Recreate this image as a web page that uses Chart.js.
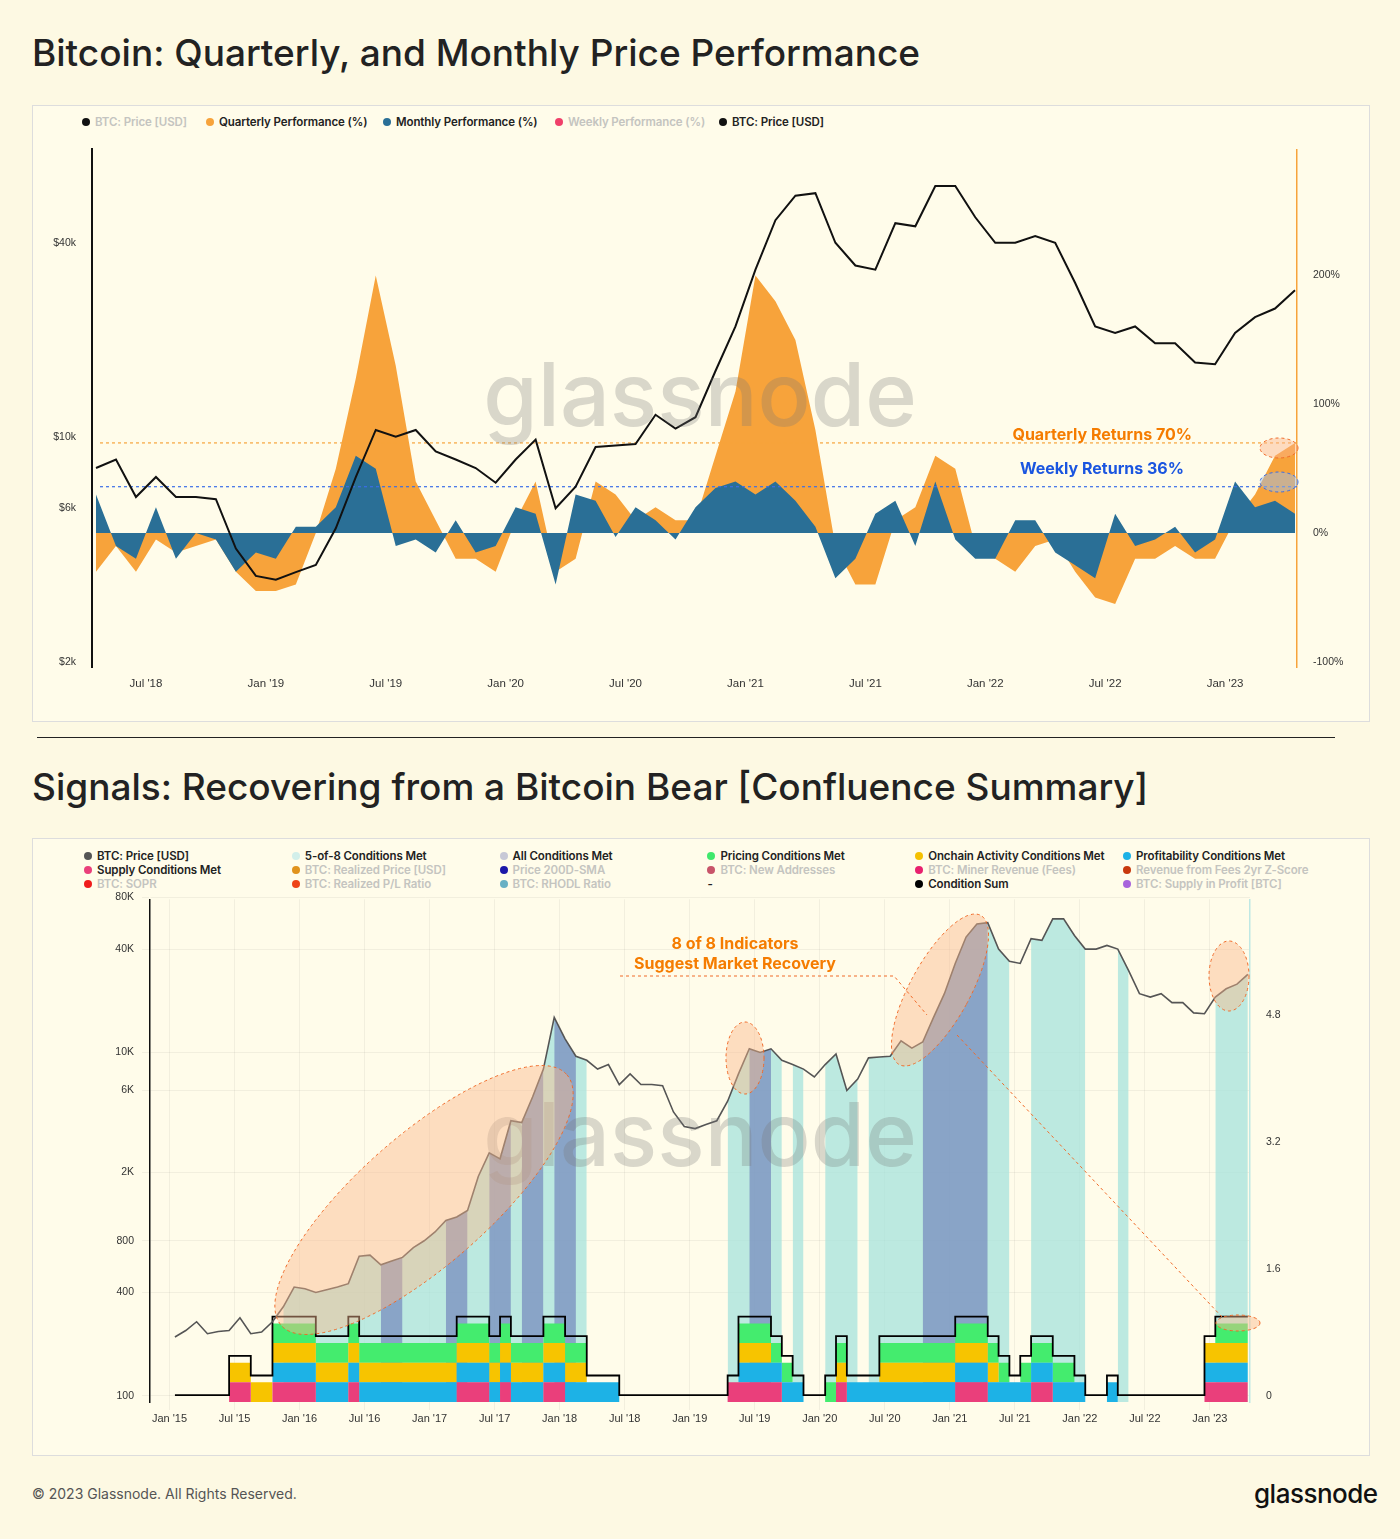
<!DOCTYPE html>
<html><head><meta charset="utf-8">
<script src="https://cdn.jsdelivr.net/npm/chart.js@4"></script>
<style>
body{margin:0;background:#fdf9e3;font-family:Inter,"Noto Sans",sans-serif;width:1400px;height:1539px;position:relative;overflow:hidden}
h1{position:absolute;margin:0;font-weight:500;font-size:37px;color:#222;left:32px}
.panel{position:absolute;left:32px;width:1336px;border:1px solid #ddd;background:#fffcea}
.lg{position:absolute;font-size:11.5px;font-weight:600;color:#222;white-space:nowrap;letter-spacing:-0.1px}
.lg i{display:inline-block;width:8px;height:8px;border-radius:50%;margin-right:5px;vertical-align:0}
.off{color:#c4c4c0}
canvas{position:absolute}
</style></head><body>
<h1 style="top:30px">Bitcoin: Quarterly, and Monthly Price Performance</h1>
<div class="panel" style="top:105px;height:615px"></div>
<div style="position:absolute;left:37px;top:737px;width:1298px;height:1px;background:#222"></div>
<h1 style="top:764px">Signals: Recovering from a Bitcoin Bear [Confluence Summary]</h1>
<div class="panel" style="top:838px;height:616px"></div>
<div id="lg1"></div><div id="lg2"></div>
<canvas id="c1" width="1337" height="570" style="left:32px;top:135px"></canvas>
<canvas id="c2" width="1337" height="545" style="left:32px;top:885px"></canvas>
<div style="position:absolute;left:32px;top:1485px;font-size:14px;color:#555">© 2023 Glassnode. All Rights Reserved.</div>
<div style="position:absolute;left:1254px;top:1478px;font-size:26px;color:#111;font-weight:500;letter-spacing:-0.5px">glassnode</div>
<script>
// monthly BTC price, Jan 2015 .. Apr 2023
const price = [
  220,240,270,230,237,240,285,230,235,270,330,430,
  420,400,415,430,450,650,660,580,610,640,730,800,
  900,1050,1100,1200,1900,2600,2400,4000,3900,5500,8000,16000,
  12000,9500,9000,8000,8500,6500,7500,6500,6500,6400,4500,3700,
  3600,3800,4000,5200,7500,10500,10000,10500,9000,8500,8000,7200,
  8500,9800,6000,7000,9300,9400,9500,11700,10600,11500,16000,22000,
  33000,47000,56000,57000,40000,34000,33000,46000,45000,60000,60000,48000,
  40000,40000,42000,40000,30000,22000,21000,22000,19500,19500,17000,16800,
  21000,23500,25000,28500];
// Apr 2018 .. Apr 2023
const quarterlyPerf = [-30,-10,-30,-5,-15,-10,-5,-30,-45,
  -45,-40,0,50,120,200,130,40,10,-20,-20,-30,
  10,40,-30,-20,40,30,10,20,10,10,60,110,
  200,180,150,80,-10,-40,-40,10,20,60,50,-10,
  -20,-30,-10,-5,-30,-50,-55,-20,-20,-10,-20,-20,
  10,30,60,70];
const monthlyPerf = [30,-10,-20,20,-20,0,-5,-30,-15,
  -20,5,5,20,60,50,-10,-5,-15,10,-15,-10,
  20,15,-40,30,25,-3,20,10,-5,20,35,40,
  30,40,25,5,-35,-20,15,25,-10,40,-5,-20,
  -20,10,10,-15,-25,-35,15,-10,-5,5,-15,-5,
  40,20,25,15];
const ticks1Left = [2000,6000,10000,40000];
const ticks1Right = [-100,0,100,200];
const ticks2Left = [100,400,800,2000,6000,10000,40000,80000];
const ticks2Right = [0,1.6,3.2,4.8];
// condition periods, [first month, last month] as month index from Jan 2015
const fiveOfEight = [[10,37],[51,55],[57,57],[60,62],[64,76],[79,83],[87,87],[96,99]];
const allMet = [[19,20],[25,26],[29,30],[32,33],[35,36],[53,54],[69,74],[99,99]];
const pricingMet = [[10,38],[53,57],[61,62],[66,77],[79,83],[97,99]];
const onchainMet = [[6,38],[53,55],[62,62],[66,76],[96,99]];
const profitMet = [[10,41],[53,58],[63,78],[79,84],[87,87],[96,99]];
const supplyMet = [[6,7],[10,13],[17,17],[27,29],[31,31],[35,36],[52,56],[62,62],[73,75],[80,81],[96,99]];

const ORANGE='#f7a33b', BLUE='#2a6f96';
const mlab = (m) => { const y=2015+Math.floor(m/12); return (m%12===0?'Jan':'Jul')+" '"+String(y).slice(2); };

function legend(id, items, cols, top, rowH, colW) {
  const el=document.getElementById(id);
  items.forEach((it,k)=>{
    const d=document.createElement('div'); d.className='lg'+(it[2]?'':' off');
    d.style.left=(84+(k%cols)*colW)+'px'; d.style.top=(top+Math.floor(k/cols)*rowH)+'px';
    d.innerHTML=(it[1]?'<i style="background:'+it[1]+'"></i>':'')+it[0]; el.appendChild(d);
  });
}
legend('lg1',[['BTC: Price [USD]','#111',0],['Quarterly Performance (%)',ORANGE,1],['Monthly Performance (%)',BLUE,1],['Weekly Performance (%)','#f0406a',0],['BTC: Price [USD]','#111',1]],5,115,0,0);
[82,206,383,555,719].forEach((x,k)=>document.querySelectorAll('#lg1 .lg')[k].style.left=x+'px');
legend('lg2',[
 ['BTC: Price [USD]','#555',1],['5-of-8 Conditions Met','#d2efea',1],['All Conditions Met','#c7c8d6',1],['Pricing Conditions Met','#3fe86c',1],['Onchain Activity Conditions Met','#f5c000',1],['Profitability Conditions Met','#1db2e6',1],
 ['Supply Conditions Met','#ea3f7b',1],['BTC: Realized Price [USD]','#e0921c',0],['Price 200D-SMA','#1c17a8',0],['BTC: New Addresses','#c8546a',0],['BTC: Miner Revenue (Fees)','#e8206e',0],['Revenue from Fees 2yr Z-Score','#c8380c',0],
 ['BTC: SOPR','#f01c1c',0],['BTC: Realized P/L Ratio','#ee4418',0],['BTC: RHODL Ratio','#68b0c4',0],['-','',1],['Condition Sum','#000',1],['BTC: Supply in Profit [BTC]','#a864dc',0]
],6,849,14,207.8);

function fixW(w){ return function(s){ s.width=w; }; }
function setTicks(list){ return function(s){ s.ticks=list.map(v=>({value:v})); }; }

function overlay(draw){ return {id:'ov',afterDatasetsDraw(c){ const g=c.ctx; g.save(); draw(g); g.restore(); }}; }
function watermark(g,x,y){ g.font='500 88px Inter, sans-serif'; g.fillStyle='rgba(120,120,120,0.28)'; g.textAlign='center'; g.textBaseline='middle'; g.fillText('glassnode',x,y); }
function ell(g,x,y,rx,ry,rot){ g.beginPath(); g.ellipse(x,y,rx,ry,rot,0,Math.PI*2); g.fill(); g.setLineDash([3,3]); g.stroke(); g.setLineDash([]); }

// ---------- chart 1 ----------
const x1 = price.slice(39).map((_,i)=>i+3.5);
const px1 = price.slice(39).map((v,i)=>({x:x1[i],y:v}));
new Chart(document.getElementById('c1'),{
  type:'line',
  data:{datasets:[
    {data:px1,yAxisID:'yp',borderColor:'#111',borderWidth:2,pointRadius:0,order:0},
    {data:monthlyPerf.map((v,i)=>({x:x1[i],y:v})),yAxisID:'yr',borderWidth:0,backgroundColor:BLUE,fill:'origin',pointRadius:0,order:1},
    {data:quarterlyPerf.map((v,i)=>({x:x1[i],y:v})),yAxisID:'yr',borderWidth:0,backgroundColor:ORANGE,fill:'origin',pointRadius:0,order:2},
    {data:[{x:3.7,y:70},{x:63.6,y:70}],yAxisID:'yr',borderColor:ORANGE,borderWidth:1.2,borderDash:[3,3],pointRadius:0,order:0},
    {data:[{x:3.7,y:36},{x:63.6,y:36}],yAxisID:'yr',borderColor:'#3a6ee8',borderWidth:1.2,borderDash:[3,3],pointRadius:0,order:0}
  ]},
  options:{animation:false,responsive:false,plugins:{legend:{display:false},tooltip:{enabled:false}},
    layout:{padding:{top:5}},
    scales:{
      x:{type:'linear',min:3.3,max:63.6,afterBuildTicks:setTicks([6,12,18,24,30,36,42,48,54,60]),
         ticks:{callback:v=>mlab(v+36),color:'#333',font:{size:11.5},padding:2},grid:{display:false},border:{display:false},afterFit:s=>{s.height=38;}},
      yp:{type:'logarithmic',position:'left',min:1930,max:78000,afterBuildTicks:setTicks(ticks1Left),afterFit:fixW(60),
         ticks:{callback:v=>'$'+(v/1000)+'k',color:'#333',font:{size:10.5},padding:8},grid:{display:false},border:{color:'#111',width:2}},
      yr:{position:'right',min:-104,max:298,afterBuildTicks:setTicks(ticks1Right),afterFit:fixW(72),
         ticks:{callback:v=>v+'%',color:'#333',font:{size:10.5},padding:8},grid:{display:false},border:{color:ORANGE,width:1.5}}
    }},
  plugins:[overlay(g=>{
    watermark(g,668,265);
    g.font='bold 16px Inter, sans-serif'; g.textAlign='right'; g.textBaseline='middle';
    g.fillStyle='#f57c00'; g.fillText('Quarterly Returns 70%',1160,300);
    g.fillStyle='#1a55e0'; g.fillText('Weekly Returns 36%',1152,334);
    g.fillStyle='rgba(250,180,140,0.45)'; g.strokeStyle='#f06a28'; ell(g,1247,313,19,10,0);
    g.fillStyle='rgba(160,190,230,0.5)'; g.strokeStyle='#3a6ee8'; ell(g,1247,347,19,10,0);
  })]
});

// ---------- chart 2 ----------
function fillPts(ranges){ const out=[]; ranges.forEach(([a,b])=>{ for(let i=a;i<=Math.min(b+1,99);i++) out.push({x:i+0.5,y:price[i]}); out.push({x:b+1.5,y:null}); }); return out; }
function mask(ranges){ const m=price.map(()=>0); ranges.forEach(([a,b])=>{ for(let i=a;i<=b;i++) m[i]=1; }); return m; }
const layers=[[supplyMet,'#ea3f7b'],[profitMet,'#1db2e6'],[onchainMet,'#f7c400'],[pricingMet,'#44ec6e']];
const masks=layers.map(l=>mask(l[0]));
const condSum=price.map((_,i)=>0.35+masks.reduce((s,m)=>s+m[i],0));
const ds2=[
  {data:price.map((v,i)=>({x:i+0.5,y:v})),yAxisID:'yp',borderColor:'#555',borderWidth:1.6,pointRadius:0,order:0},
  {data:condSum.map((v,i)=>({x:i+0.5,y:v})),yAxisID:'ys',borderColor:'#000',borderWidth:1.8,pointRadius:0,stepped:'after',order:1},
  {data:fillPts(allMet),yAxisID:'yp',borderWidth:0,backgroundColor:'rgba(120,140,190,0.75)',fill:'start',pointRadius:0,spanGaps:false,order:7},
  {data:fillPts(fiveOfEight),yAxisID:'yp',borderWidth:0,backgroundColor:'rgba(160,225,220,0.7)',fill:'start',pointRadius:0,spanGaps:false,order:8}
];
layers.forEach((l,k)=>ds2.push({data:masks[k].map((v,i)=>({x:i+0.5,y:v})),yAxisID:'yc',stack:'c',borderWidth:0,backgroundColor:l[1],fill:k?'-1':'origin',pointRadius:0,stepped:'after',order:2+k}));
new Chart(document.getElementById('c2'),{
  type:'line',data:{datasets:ds2},
  options:{animation:false,responsive:false,plugins:{legend:{display:false},tooltip:{enabled:false}},
    layout:{padding:{top:5}},
    scales:{
      x:{type:'linear',min:-1.8,max:99.7,afterBuildTicks:setTicks([0,6,12,18,24,30,36,42,48,54,60,66,72,78,84,90,96]),
         ticks:{callback:v=>mlab(v),color:'#333',font:{size:11},padding:2},grid:{color:'rgba(0,0,0,0.05)'},border:{display:false},afterFit:s=>{s.height=28;}},
      yp:{type:'logarithmic',position:'left',min:92,max:78000,afterBuildTicks:setTicks(ticks2Left),afterFit:fixW(118),
         ticks:{callback:v=>v>=1000?(v/1000)+'K':v,color:'#333',font:{size:10.5},padding:8},grid:{color:'rgba(0,0,0,0.05)'},border:{color:'#111',width:1.5}},
      yr:{position:'right',min:-0.07,max:6.25,afterBuildTicks:setTicks(ticks2Right),afterFit:fixW(119),
         ticks:{callback:v=>v,color:'#333',font:{size:10.5},padding:8},grid:{display:false},border:{color:'#bfe8e4',width:1.5}},
      yc:{display:false,stacked:true,min:0,max:25.6},
      ys:{display:false,min:0,max:25.6}
    }},
  plugins:[overlay(g=>{
    watermark(g,668,255);
    g.fillStyle='rgba(250,185,140,0.45)'; g.strokeStyle='#f06a28';
    ell(g,392,315,190,65,-0.72);
    ell(g,713,173,19,36,0);
    ell(g,908,105,30,85,0.5);
    ell(g,1197,91,20,35,0);
    ell(g,1206,438,22,8,0);
    g.setLineDash([3,3]); g.strokeStyle='#f06a28'; g.lineWidth=1;
    g.beginPath(); g.moveTo(588,91); g.lineTo(862,91); g.lineTo(895,130); g.stroke();
    g.beginPath(); g.moveTo(925,150); g.lineTo(1190,432); g.stroke(); g.setLineDash([]);
    g.font='bold 16px Inter, sans-serif'; g.fillStyle='#f57c00'; g.textAlign='center'; g.textBaseline='middle';
    g.fillText('8 of 8 Indicators',703,59); g.fillText('Suggest Market Recovery',703,79);
  })]
});
</script>
</body></html>
